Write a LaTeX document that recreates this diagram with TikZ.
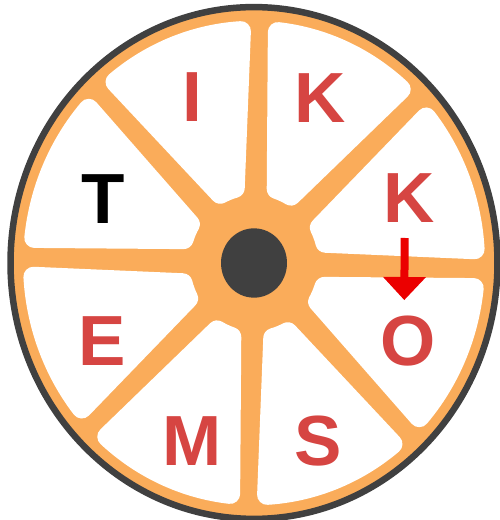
\documentclass[tikz,border=0pt]{standalone}
\usepackage{fontspec}
\setmainfont{Liberation Sans}
\usetikzlibrary{arrows.meta}
\definecolor{rimgray}{RGB}{64,64,64}
\definecolor{spokeorange}{RGB}{250,172,90}
\definecolor{letterred}{RGB}{214,69,66}
\definecolor{arrowred}{RGB}{235,0,0}
\begin{document}
\begin{tikzpicture}[
    x=1pt, y=1pt,
    letter/.style={inner sep=0pt, text=letterred, font=\fontsize{71}{71}\selectfont\bfseries},
    sector/.style={fill=white, draw=white, line width=20pt, line join=round},
    pointer/.style={draw=arrowred, line width=8pt, -{Triangle[length=23pt, width=43pt, line width=0pt]}}
]
\useasboundingbox (0,0) rectangle (500,520);
\begin{scope}[shift={(254,257)}, yscale=1.051, rotate=-1.4]
  \fill[spokeorange, draw=rimgray, line width=6.5pt] (0,0) circle (243.5);
  \foreach \a in {0,45,...,315}
    \filldraw[sector] (\a+16.49:74) -- (\a+4.8:221)
      arc[start angle=\a+4.8, end angle=\a+40.2, radius=221]
      -- (\a+28.51:74) arc[start angle=\a+28.51, end angle=\a+16.49, radius=74] -- cycle;
  \fill[rimgray] (0,0) circle (33);
\end{scope}
\node[letter] (i) at (192,423) {I};
\node[letter] (k1) at (320,422) {K};
\node[letter] (k2) at (409,322) {K};
\node[letter] (o) at (408,179) {O};
\node[letter] (s) at (318,79) {S};
\node[letter] (m) at (192,79) {M};
\node[letter] (e) at (102,179) {E};
\node[letter, text=black] (t) at (103,321) {T};
\draw[pointer, shorten <=40pt, shorten >=41pt] ([xshift=-4pt]k2.center) -- ([xshift=-4pt]o.center);
\end{tikzpicture}
\end{document}
